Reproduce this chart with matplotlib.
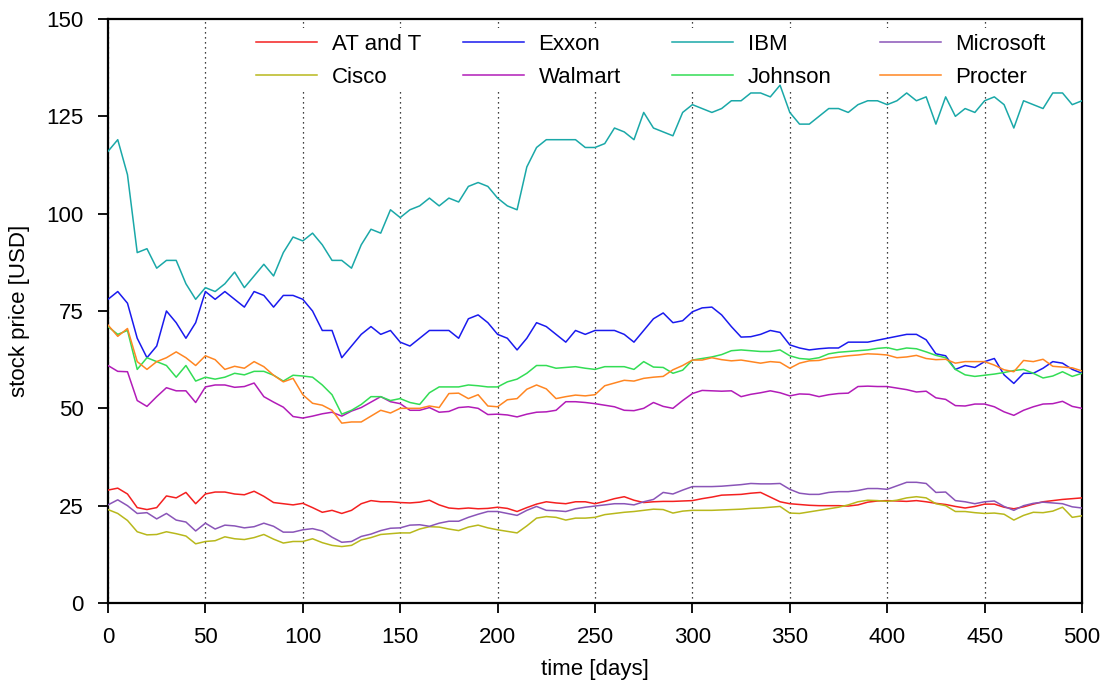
import numpy as np
import matplotlib
matplotlib.use("Agg")
import matplotlib.pyplot as plt
from matplotlib.patches import Rectangle

plt.rcParams['font.family'] = ['Liberation Sans', 'DejaVu Sans']

days = list(range(0, 501, 5))

att = [29, 29.5, 28, 24.5, 24, 24.5, 27.5, 27, 28.4, 25.5, 28, 28.5, 28.5, 28, 27.8, 28.7, 27.4, 25.8, 25.5, 25.2,
       25.6, 24.5, 23.3, 23.8, 23, 23.8, 25.5, 26.3, 26, 26, 25.8, 25.7, 25.9, 26.4, 25.2, 24.4, 24.2, 24.4, 24.2, 24.3,
       24.6, 24.3, 23.5, 24.5, 25.4, 26, 25.7, 25.5, 26, 26, 25.5, 26.1, 26.8, 27.3, 26.4, 25.8, 26, 26.1, 26.1, 26.2,
       26.3, 26.8, 27.2, 27.7, 27.8, 27.9, 28.2, 28.4, 27.2, 26, 25.5, 25.3, 25.1, 25, 25, 25, 24.9, 25.2, 25.9, 26.2,
       26.3, 26.2, 26.1, 26.3, 26, 25.6, 25.3, 24.8, 24.4, 24.8, 25.4, 25.4, 24.6, 24.2, 24.7, 25.4, 26, 26.3, 26.6, 26.8,
       27]
cisco = [24, 23, 21.2, 18.3, 17.5, 17.6, 18.3, 17.8, 17.2, 15.2, 15.8, 16, 17, 16.5, 16.3, 16.8, 17.6, 16.4, 15.4, 15.8,
         15.8, 16.5, 15.5, 14.8, 14.5, 14.8, 16.2, 16.8, 17.6, 17.8, 18, 18, 19, 19.6, 19.5, 19, 18.6, 19.5, 20, 19.3,
         18.8, 18.4, 18, 19.8, 21.8, 22.2, 22, 21.3, 21.8, 21.8, 22, 22.7, 23, 23.3, 23.5, 23.8, 24.1, 24, 23.1, 23.6,
         23.8, 23.8, 23.8, 23.9, 24, 24.1, 24.3, 24.4, 24.6, 24.8, 23.1, 23, 23.4, 23.8, 24.2, 24.6, 25.2, 26, 26.4, 26.3,
         26.1, 26.4, 27, 27.3, 27, 25.5, 25, 23.5, 23.5, 23.2, 23, 23.1, 22.8, 21.3, 22.5, 23.3, 23.2, 23.6, 24.6, 22,
         22.4]
exxon = [78, 80, 77, 68, 63, 66, 75, 72, 68, 72, 80, 78, 80, 78, 76, 80, 79, 76, 79, 79,
         78, 75, 70, 70, 63, 66, 69, 71, 69, 70, 67, 66, 68, 70, 70, 70, 68, 73, 74, 72,
         69, 68, 65, 68, 72, 71, 69, 67, 70, 69, 70, 70, 70, 69, 67, 70, 73, 74.5, 72, 72.5,
         74.8, 75.8, 76, 74, 71, 68.3, 68.4, 69, 70, 69.5, 66.3, 65.5, 65, 65.3, 65.5, 65.5, 67, 67, 67, 67.5,
         68, 68.5, 69, 69, 67.6, 64, 63.5, 60, 61, 60.5, 62, 62.8, 58.6, 56.4, 59, 59, 60.3, 62, 61.6, 60,
         59]
walmart = [61, 59.5, 59.4, 52, 50.5, 53, 55.3, 54.5, 54.5, 51.5, 55.5, 56, 56, 55.4, 55.6, 56.5, 53, 51.6, 50.3, 47.9,
           47.5, 48, 48.6, 49, 48, 49.3, 50.2, 51.6, 53, 51.7, 51.2, 49.5, 49.5, 50.2, 49, 49.2, 50.2, 50.4, 50, 48.4,
           48.5, 48.3, 47.8, 48.5, 49, 49.1, 49.5, 51.7, 51.7, 51.5, 51.2, 50.8, 50.4, 49.5, 49.4, 50, 51.5, 50.5, 50, 52,
           53.8, 54.6, 54.5, 54.4, 54.5, 53, 53.6, 54, 54.5, 54, 53.2, 53.7, 53.6, 53, 53.5, 53.8, 53.9, 55.6, 55.7, 55.6,
           55.6, 55.2, 54.8, 54.2, 54.4, 52.7, 52.3, 50.7, 50.6, 51.1, 51.1, 50.4, 49.1, 48.2, 49.5, 50.4, 51.1, 51.2,
           51.8, 50.5, 50]
ibm = [116, 119, 110, 90, 91, 86, 88, 88, 82, 78, 81, 80, 82, 85, 81, 84, 87, 84, 90, 94,
       93, 95, 92, 88, 88, 86, 92, 96, 95, 101, 99, 101, 102, 104, 102, 104, 103, 107, 108, 107,
       104, 102, 101, 112, 117, 119, 119, 119, 119, 117, 117, 118, 122, 121, 119, 126, 122, 121, 120, 126,
       128, 127, 126, 127, 129, 129, 131, 131, 130, 133, 126, 123, 123, 125, 127, 127, 126, 128, 129, 129,
       128, 129, 131, 129, 130, 123, 130, 125, 127, 126, 129, 130, 128, 122, 129, 128, 127, 131, 131, 128,
       129]
johnson = [71, 69, 70, 60, 63, 62, 61, 58, 61, 57, 58, 57.5, 58, 59, 58.6, 59.5, 59.5, 58.5, 57, 58.5,
           58.3, 58, 56, 53.5, 48.5, 49.5, 51, 53, 53, 52, 52.5, 51.5, 51, 54, 55.5, 55.5, 55.5, 56, 55.8, 55.5,
           55.5, 56.8, 57.5, 59, 61, 61, 60.3, 60.5, 60.7, 60.3, 60, 60.7, 60.7, 60.7, 60, 62, 60.6, 60.5, 59, 59.8,
           62.4, 62.8, 63.2, 63.8, 64.8, 65, 64.8, 64.6, 64.6, 65, 63.5, 62.8, 62.6, 63, 64, 64.4, 64.6, 64.8, 65, 65.4,
           65.6, 65, 65.5, 65.3, 64.5, 63.6, 63, 60, 58.6, 58.2, 58.5, 58.8, 59.2, 59.7, 60, 59, 57.8, 58.3, 59.4, 58.2,
           59]
microsoft = [25.2, 26.5, 25, 23, 23.2, 21.6, 23, 21.3, 20.8, 18.5, 20.5, 19, 20, 19.8, 19.3, 19.6, 20.5, 19.7, 18.2, 18.2,
             18.8, 19.1, 18.5, 16.9, 15.6, 15.8, 17.1, 17.7, 18.6, 19.2, 19.3, 20, 20.1, 19.7, 20.5, 21, 21, 22, 22.8, 23.5,
             23.5, 23, 22.5, 23.8, 24.8, 23.8, 23.7, 23.5, 24.2, 24.6, 24.9, 25.2, 25.5, 25.5, 25.2, 26, 26.6, 28.4, 28, 29,
             29.9, 29.9, 29.9, 30, 30.2, 30.4, 30.7, 30.6, 30.6, 30.7, 29.2, 28.2, 27.9, 27.9, 28.4, 28.6, 28.6, 28.9, 29.4,
             29.4, 29.2, 30.1, 31, 31, 30.7, 28.4, 28.5, 26.3, 26, 25.5, 26, 26.2, 24.8, 23.8, 25, 25.6, 25.9, 25.7, 25.5,
             24.7, 24.4]
procter = [71.4, 68.5, 70.5, 62, 60, 62, 63, 64.5, 63, 61, 63.5, 62.5, 60, 60.8, 60.3, 62, 60.7, 58.5, 56.8, 57.7,
           53.5, 51.3, 50.8, 49.5, 46.2, 46.5, 46.5, 48, 49.5, 48.8, 50, 50, 50, 50.6, 50.2, 53.8, 53.9, 52.5, 53.5, 50.6,
           50.4, 52.2, 52.5, 54.9, 56, 55, 52.5, 53, 53.4, 53.2, 53.5, 55.8, 56.5, 57.2, 57, 57.7, 58, 58.2, 59.9, 61,
           62.4, 62.4, 63, 62.5, 62.2, 62.4, 62, 61.6, 62, 61.8, 60.3, 61.6, 62.2, 62.3, 62.9, 63.2, 63.5, 63.7, 64, 63.9,
           63.7, 63, 63.2, 63.6, 62.8, 62.5, 62.6, 61.6, 62, 62, 62, 61.1, 59.9, 59.4, 62.3, 62, 62.6, 60.8, 60.6, 60.4,
           59.6]

names = ["AT and T", "Cisco", "Exxon", "Walmart", "IBM", "Johnson", "Microsoft", "Procter"]
series = [att, cisco, exxon, walmart, ibm, johnson, microsoft, procter]
colors = ["#f42020", "#b8b81c", "#1a1aee", "#b21cb8", "#1aa8a8", "#33dd55", "#8a55b8", "#ff8622"]

x_ticks = list(range(0, 501, 50))
y_ticks = list(range(0, 151, 25))

FS = 16

fig = plt.figure(figsize=(11.07, 6.82), dpi=100)
ax = fig.add_axes([108 / 1107, 79 / 682, 974 / 1107, 584 / 682])

lines = []
for name, vals, c in zip(names, series, colors):
    ln, = ax.plot(days, vals, color=c, lw=1.1, label=name, zorder=3)
    lines.append(ln)

ax.set_xlim(0, 500)
ax.set_ylim(0, 150)
ax.set_xticks(x_ticks)
ax.set_yticks(y_ticks)
ax.tick_params(axis='both', direction='out', length=7.5, width=1.3, labelsize=FS, pad=10,
               top=False, right=False)
for s in ax.spines.values():
    s.set_linewidth(1.6)
ax.grid(axis='x', color='black', linestyle=(0, (1, 3)), linewidth=0.9, zorder=0)
ax.set_axisbelow(True)

ax.set_xlabel("time [days]", fontsize=FS, labelpad=8)
ax.set_ylabel("stock price [USD]", fontsize=FS, labelpad=12)

# white legend background
ax.add_patch(Rectangle(((250 - 108) / 974, (603 - 91) / 584), (1080 - 250) / 974, 63 / 584,
                       transform=ax.transAxes, facecolor='white', edgecolor='none', zorder=1))

col_x = [256, 463, 672, 880]
for i, cx in enumerate(col_x):
    leg = ax.legend(handles=lines[2 * i:2 * i + 2], loc='upper left',
                    bbox_to_anchor=((cx - 108) / 974, (603 - 34) / 584),
                    frameon=False, fontsize=FS, handlelength=2.75, handletextpad=0.65,
                    borderpad=0, borderaxespad=0, labelspacing=0.55)
    leg.set_zorder(4)
    if i < len(col_x) - 1:
        ax.add_artist(leg)

fig.savefig("out.png", dpi=100)
